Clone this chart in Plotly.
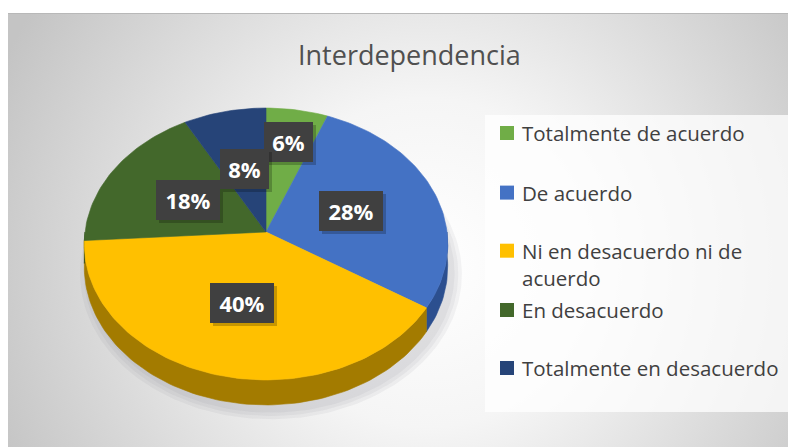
import base64
import math
import plotly.graph_objects as go

# ---------------- data ----------------
categories = ["Totalmente de acuerdo", "De acuerdo", "Ni en desacuerdo ni de acuerdo",
              "En desacuerdo", "Totalmente en desacuerdo"]
legend_text = ["Totalmente de acuerdo", "De acuerdo", "Ni en desacuerdo ni de<br>acuerdo",
               "En desacuerdo", "Totalmente en desacuerdo"]
values = [6, 28, 40, 18, 8]
title_text = "Interdependencia"

# ---------------- styles / layout ----------------
colors = ["#70AD47", "#4472C4", "#FFC000", "#43682B", "#264478"]
side_colors = ["#4f7d31", "#2c4f8f", "#a37b00", "#2d4a1c", "#1a2f56"]
PAGE_OFF = 8               # browser body margin
W, H = 796 - PAGE_OFF, 447 - PAGE_OFF
CX, CY = 266, 232          # pie apex (page pixels)
SX, SY = 181, 134.9        # horizontal / vertical scale
K = 0.0882                 # perspective factor
DEPTH = 22.8               # pie thickness
label_r = [0.72, 0.5, 0.52, 0.5, 0.5]
legend_rows = [133, 192.6, 250.7, 310, 368]
LEG_SYM_X, LEG_TXT_X = 507, 520
FONT = "Open Sans"


def proj(theta_deg, r=1.0, drop=0.0):
    t = math.radians(theta_deg)
    x = r * math.sin(t)
    w = r * math.cos(t)
    d = 1 + K * w
    return CX + SX * x / d, CY - SY * w / d + drop / d


def arc(a, b, r=1.0, drop=0.0, n=None):
    if n is None:
        n = max(2, int(abs(b - a) / 1.5) + 2)
    pts = [proj(a + (b - a) * i / (n - 1), r, drop) for i in range(n)]
    return [p[0] for p in pts], [p[1] for p in pts]


total = sum(values)
bounds = []
acc = 0
for v in values:
    a = acc / total * 360
    acc += v
    b = acc / total * 360
    bounds.append((a, b))

fig = go.Figure()

# soft shadow under the pie
for sc in [1.05, 1.03, 1.01]:
    xs, ys = arc(0, 360, r=sc, drop=DEPTH, n=240)
    xs = [x + 5 for x in xs]
    ys = [y + 6 for y in ys]
    fig.add_trace(go.Scatter(x=xs, y=ys, fill="toself", mode="lines",
                             line=dict(width=0), fillcolor="rgba(110,110,130,0.08)",
                             hoverinfo="skip", showlegend=False))

# side walls (front half only)
for (a, b), sc in zip(bounds, side_colors):
    lo, hi = max(a, 90), min(b, 270)
    if hi <= lo:
        continue
    tx, ty = arc(lo, hi)
    bx, by = arc(lo, hi, drop=DEPTH)
    xs = tx + bx[::-1] + [tx[0]]
    ys = ty + by[::-1] + [ty[0]]
    fig.add_trace(go.Scatter(x=xs, y=ys, fill="toself", mode="lines",
                             line=dict(width=0.6, color=sc), fillcolor=sc,
                             hoverinfo="skip", showlegend=False))

# top faces
for (a, b), c, name, v in zip(bounds, colors, categories, values):
    ax, ay = arc(a, b)
    xs = [CX] + ax + [CX]
    ys = [CY] + ay + [CY]
    fig.add_trace(go.Scatter(x=xs, y=ys, fill="toself", mode="lines",
                             line=dict(width=0.6, color=c), fillcolor=c,
                             name=name, hoveron="fills",
                             text=f"{name}: {v}%", hoverinfo="text",
                             showlegend=False))

# data labels (with a soft drop shadow)
for (a, b), v, r in zip(bounds, values, label_r):
    lx, ly = proj((a + b) / 2, r=r)
    txt = f"{round(v / total * 100)}%"
    bw = 49 if len(txt) == 2 else 64
    fig.add_annotation(x=lx + 3, y=ly + 3, text="", showarrow=False,
                       bgcolor="rgba(0,0,0,0.22)", borderpad=0, borderwidth=0,
                       width=bw, height=40, xanchor="center", yanchor="middle")
    fig.add_annotation(x=lx, y=ly, text=f"<b>{txt}</b>", showarrow=False,
                       font=dict(family=FONT, size=22, color="white"),
                       bgcolor="#404040", borderpad=0, borderwidth=0,
                       width=bw, height=40, xanchor="center", yanchor="middle")

# legend symbols
fig.add_trace(go.Scatter(x=[LEG_SYM_X] * len(values), y=legend_rows, mode="markers",
                         marker=dict(symbol="square", size=14, color=colors, line=dict(width=0)),
                         hoverinfo="skip", showlegend=False))
# legend texts
for t, yrow in zip(legend_text, legend_rows):
    lines = t.count("<br>")
    fig.add_annotation(x=LEG_TXT_X, y=yrow + lines * 14, text=t, showarrow=False,
                       xanchor="left", yanchor="middle", align="left",
                       font=dict(family=FONT, size=20.5, color="#404040"))

# title
fig.add_annotation(x=409, y=54, text=title_text, showarrow=False,
                   xanchor="center", yanchor="middle",
                   font=dict(family=FONT, size=27, color="#505050"))

# background gradient
svg = ('<svg xmlns="http://www.w3.org/2000/svg" width="788" height="434">'
       '<defs><radialGradient id="g" gradientUnits="userSpaceOnUse" cx="420" cy="250" r="470">'
       '<stop offset="0" stop-color="#ffffff"/><stop offset="0.35" stop-color="#f5f5f5"/>'
       '<stop offset="1" stop-color="#c4c4c4"/></radialGradient></defs>'
       '<rect width="788" height="434" fill="url(#g)"/></svg>')
src = "data:image/svg+xml;base64," + base64.b64encode(svg.encode()).decode()

fig.update_layout(
    width=W, height=H,
    margin=dict(l=0, r=0, t=0, b=0),
    paper_bgcolor="white", plot_bgcolor="rgba(0,0,0,0)",
    xaxis=dict(range=[PAGE_OFF, 796], visible=False, fixedrange=True),
    yaxis=dict(range=[447, PAGE_OFF], visible=False, fixedrange=True),
    showlegend=False,
    images=[dict(source=src, xref="x", yref="paper", x=8, y=1 - (13 - PAGE_OFF) / H,
                 sizex=788, sizey=434 / H, xanchor="left", yanchor="top",
                 sizing="stretch", layer="below")],
    shapes=[
        dict(type="rect", xref="x", yref="y", x0=485, x1=790, y0=115, y1=412,
             fillcolor="rgba(255,255,255,0.75)", line=dict(width=0), layer="below"),
        dict(type="line", xref="x", yref="y", x0=8, x1=796, y0=13.5, y1=13.5,
             line=dict(color="#b8b8b8", width=1)),
    ],
)

fig.write_html("out.html", config={"displayModeBar": False})
